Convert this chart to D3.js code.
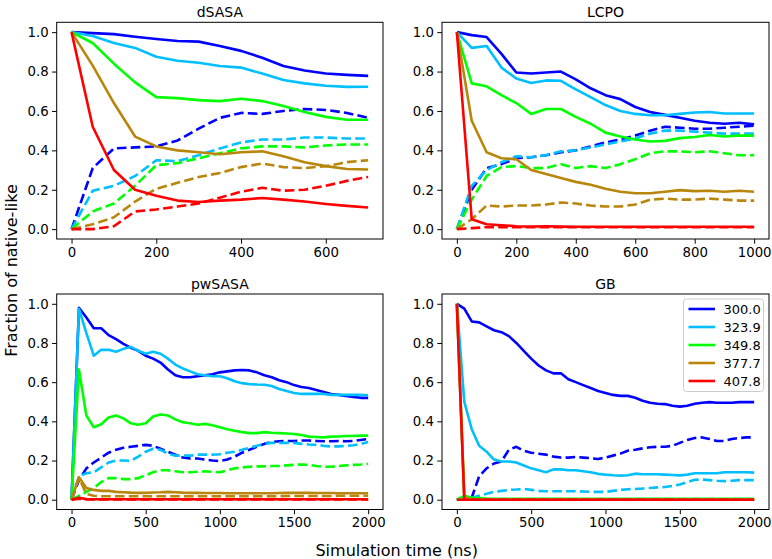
<!DOCTYPE html>
<html><head><meta charset="utf-8">
<script src="https://cdn.jsdelivr.net/npm/d3@7"></script>
<style>
body{margin:0;background:#fff}
svg{display:block}
text{font-family:"DejaVu Sans",sans-serif;fill:#000}
</style>
</head><body>
<svg id="chart" width="772" height="559"></svg>
<script>
// ---------------- data ----------------
const temperatures = ["300.0", "323.9", "349.8", "377.7", "407.8"];
const yTickValues = [0, 0.2, 0.4, 0.6, 0.8, 1.0];

const dSASA_time = [0,50,100,150,200,250,300,350,400,450,500,550,600,650,700];
const dSASA_xticks = [0,200,400,600];
const dSASA_solid = [
  [1.0,0.995,0.99,0.977,0.965,0.955,0.952,0.93,0.905,0.87,0.828,0.805,0.79,0.783,0.778],
  [1.0,0.98,0.945,0.92,0.875,0.855,0.845,0.828,0.82,0.79,0.757,0.74,0.728,0.722,0.723],
  [1.0,0.945,0.84,0.745,0.67,0.665,0.655,0.65,0.662,0.65,0.625,0.595,0.57,0.555,0.555],
  [1.0,0.83,0.64,0.47,0.42,0.40,0.39,0.38,0.39,0.395,0.37,0.34,0.32,0.305,0.303],
  [1.0,0.52,0.30,0.20,0.17,0.145,0.138,0.145,0.15,0.158,0.15,0.14,0.128,0.118,0.11]
];
const dSASA_dashed = [
  [0,0.31,0.41,0.415,0.42,0.45,0.51,0.565,0.59,0.585,0.60,0.61,0.605,0.59,0.565],
  [0,0.195,0.22,0.27,0.35,0.345,0.375,0.41,0.44,0.455,0.455,0.465,0.465,0.46,0.46],
  [0,0.09,0.13,0.22,0.325,0.335,0.36,0.385,0.41,0.42,0.42,0.415,0.425,0.43,0.43],
  [0,0.025,0.06,0.14,0.205,0.235,0.265,0.285,0.315,0.333,0.315,0.31,0.32,0.34,0.35],
  [0,0,0.015,0.09,0.10,0.115,0.13,0.16,0.19,0.21,0.195,0.20,0.22,0.245,0.265]
];

const LCPO_time = [0,50,100,150,200,250,300,350,400,450,500,550,600,650,700,750,800,850,900,950,1000];
const LCPO_xticks = [0,200,400,600,800,1000];
const LCPO_solid = [
  [1.0,0.985,0.975,0.89,0.795,0.79,0.795,0.80,0.76,0.715,0.68,0.66,0.62,0.595,0.58,0.565,0.55,0.54,0.535,0.54,0.532],
  [1.0,0.92,0.93,0.82,0.765,0.742,0.755,0.753,0.71,0.67,0.63,0.60,0.585,0.578,0.578,0.585,0.592,0.595,0.587,0.587,0.587],
  [1.0,0.74,0.725,0.68,0.64,0.585,0.61,0.61,0.57,0.535,0.49,0.47,0.455,0.445,0.448,0.462,0.468,0.478,0.47,0.475,0.475],
  [1.0,0.55,0.39,0.36,0.355,0.30,0.28,0.26,0.24,0.225,0.205,0.19,0.182,0.182,0.19,0.198,0.193,0.195,0.19,0.195,0.19],
  [1.0,0.05,0.025,0.02,0.015,0.013,0.015,0.013,0.012,0.012,0.012,0.012,0.012,0.012,0.012,0.012,0.012,0.012,0.012,0.012,0.012]
];
const LCPO_dashed = [
  [0,0.2,0.31,0.33,0.36,0.365,0.375,0.39,0.40,0.42,0.44,0.455,0.475,0.50,0.52,0.515,0.51,0.51,0.515,0.52,0.525],
  [0,0.22,0.30,0.34,0.37,0.365,0.375,0.395,0.40,0.415,0.43,0.445,0.46,0.485,0.50,0.50,0.495,0.49,0.485,0.485,0.485],
  [0,0.15,0.27,0.315,0.32,0.31,0.31,0.33,0.31,0.32,0.31,0.33,0.355,0.385,0.395,0.395,0.39,0.395,0.385,0.375,0.375],
  [0,0.05,0.12,0.115,0.12,0.12,0.125,0.135,0.13,0.12,0.115,0.115,0.125,0.15,0.155,0.15,0.15,0.155,0.15,0.145,0.145],
  [0,0.005,0.01,0.01,0.01,0.01,0.01,0.01,0.01,0.01,0.01,0.01,0.01,0.01,0.01,0.01,0.01,0.01,0.01,0.01,0.01]
];

const long_time = [0,50,100,150,200,250,300,350,400,450,500,550,600,650,700,750,800,850,900,950,
  1000,1050,1100,1150,1200,1250,1300,1350,1400,1450,1500,1550,1600,1650,1700,1750,1800,1850,1900,1950,2000];
const long_xticks = [0,500,1000,1500,2000];

const pwSASA_solid = [
  [0,0.98,0.93,0.875,0.875,0.84,0.82,0.795,0.775,0.76, 0.735,0.72,0.70,0.665,0.635,0.625,0.625,0.63,0.635,0.64,
   0.65,0.655,0.66,0.662,0.66,0.65,0.635,0.625,0.61,0.60, 0.585,0.575,0.57,0.56,0.55,0.54,0.535,0.53,0.525,0.52, 0.52],
  [0,0.975,0.85,0.735,0.765,0.765,0.755,0.77,0.78,0.76, 0.745,0.755,0.745,0.72,0.69,0.67,0.655,0.64,0.635,0.63,
   0.63,0.62,0.605,0.595,0.59,0.588,0.587,0.58,0.565,0.555, 0.545,0.54,0.54,0.54,0.54,0.535,0.535,0.535,0.535,0.535, 0.533],
  [0,0.665,0.43,0.37,0.385,0.42,0.43,0.415,0.39,0.383, 0.39,0.425,0.435,0.43,0.41,0.395,0.39,0.383,0.387,0.38,
   0.37,0.36,0.352,0.345,0.34,0.34,0.345,0.342,0.34,0.338, 0.335,0.33,0.322,0.32,0.318,0.322,0.323,0.325,0.325,0.327, 0.327],
  [0,0.115,0.06,0.05,0.045,0.045,0.04,0.038,0.036,0.035, 0.035,0.037,0.038,0.04,0.038,0.036,0.035,0.035,0.034,0.034,
   0.034,0.033,0.033,0.033,0.033,0.033,0.033,0.033,0.034,0.035, 0.035,0.035,0.035,0.034,0.034,0.034,0.033,0.033,0.033,0.033, 0.033],
  [0,0.01,0.003,0.002,0.002,0.002,0.002,0.002,0.002,0.002, 0.002,0.002,0.002,0.002,0.002,0.002,0.002,0.002,0.002,0.002,
   0.002,0.002,0.002,0.002,0.002,0.002,0.002,0.002,0.002,0.002, 0.002,0.002,0.002,0.002,0.002,0.002,0.002,0.002,0.002,0.002, 0.002]
];
const pwSASA_dashed = [
  [0,0.10,0.16,0.19,0.215,0.24,0.255,0.265,0.27,0.275, 0.28,0.275,0.26,0.245,0.23,0.215,0.21,0.21,0.205,0.20,
   0.197,0.205,0.22,0.24,0.255,0.27,0.285,0.295,0.298,0.30, 0.30,0.302,0.302,0.30,0.298,0.298,0.30,0.298,0.30,0.305, 0.31],
  [0,0.12,0.135,0.14,0.165,0.19,0.20,0.20,0.198,0.22, 0.245,0.26,0.255,0.235,0.225,0.225,0.225,0.23,0.23,0.23,
   0.232,0.24,0.245,0.255,0.265,0.275,0.285,0.29,0.29,0.29, 0.29,0.285,0.282,0.28,0.275,0.272,0.272,0.275,0.278,0.285, 0.295],
  [0,0.02,0.04,0.06,0.09,0.11,0.11,0.105,0.105,0.11, 0.125,0.14,0.15,0.15,0.145,0.14,0.14,0.143,0.145,0.142,
   0.14,0.15,0.16,0.165,0.168,0.17,0.17,0.172,0.172,0.175, 0.178,0.18,0.178,0.172,0.168,0.168,0.172,0.175,0.178,0.18, 0.183],
  [0,0.11,0.03,0.02,0.018,0.018,0.018,0.018,0.018,0.018, 0.018,0.018,0.018,0.018,0.018,0.018,0.018,0.018,0.018,0.018,
   0.018,0.018,0.018,0.018,0.018,0.018,0.018,0.018,0.018,0.019, 0.019,0.019,0.019,0.019,0.019,0.019,0.02,0.02,0.02,0.02, 0.02],
  [0,0.005,0.002,0.001,0.001,0.001,0.001,0.001,0.001,0.001, 0.001,0.001,0.001,0.001,0.001,0.001,0.001,0.001,0.001,0.001,
   0.001,0.001,0.001,0.001,0.001,0.001,0.001,0.001,0.001,0.001, 0.001,0.001,0.001,0.001,0.001,0.001,0.001,0.001,0.001,0.001, 0.001]
];

const GB_solid = [
  [1.0,0.975,0.91,0.905,0.885,0.865,0.855,0.835,0.80,0.76, 0.72,0.685,0.66,0.645,0.645,0.615,0.60,0.585,0.57,0.555,
   0.545,0.535,0.53,0.53,0.52,0.505,0.495,0.49,0.488,0.48, 0.475,0.48,0.49,0.495,0.498,0.495,0.495,0.495,0.498,0.498, 0.498],
  [1.0,0.5,0.36,0.275,0.245,0.205,0.195,0.195,0.19,0.175, 0.16,0.15,0.14,0.155,0.155,0.15,0.15,0.145,0.14,0.132,
   0.128,0.125,0.123,0.125,0.133,0.13,0.13,0.13,0.128,0.126, 0.124,0.128,0.135,0.135,0.135,0.135,0.14,0.14,0.14,0.14, 0.138],
  [1.0,0.02,0.01,0.008,0.006,0.005,0.005,0.005,0.005,0.005, 0.005,0.005,0.005,0.005,0.005,0.005,0.005,0.005,0.005,0.005,
   0.005,0.005,0.005,0.005,0.005,0.005,0.005,0.005,0.005,0.005, 0.005,0.005,0.005,0.005,0.005,0.005,0.005,0.005,0.005,0.005, 0.005],
  [1.0,0.01,0.003,0,0,0,0,0,0,0, 0,0,0,0,0,0,0,0,0,0, 0,0,0,0,0,0,0,0,0,0, 0,0,0,0,0,0,0,0,0,0, 0],
  [1.0,0,0,0,0,0,0,0,0,0, 0,0,0,0,0,0,0,0,0,0, 0,0,0,0,0,0,0,0,0,0, 0,0,0,0,0,0,0,0,0,0, 0]
];
const GB_dashed = [
  [0,0.005,0.01,0.12,0.16,0.185,0.195,0.255,0.27,0.25, 0.24,0.235,0.23,0.22,0.215,0.215,0.218,0.215,0.212,0.208,
   0.215,0.225,0.235,0.25,0.255,0.262,0.268,0.27,0.27,0.275, 0.29,0.305,0.315,0.318,0.31,0.30,0.30,0.31,0.315,0.318, 0.318],
  [0,0.005,0.01,0.02,0.03,0.04,0.045,0.05,0.052,0.055, 0.05,0.045,0.043,0.043,0.043,0.043,0.043,0.042,0.04,0.04,
   0.04,0.045,0.05,0.053,0.055,0.057,0.06,0.063,0.065,0.07, 0.078,0.09,0.102,0.103,0.10,0.097,0.095,0.097,0.10,0.10, 0.10],
  [0,0.02,0.005,0,0,0,0,0,0,0, 0,0,0,0,0,0,0,0,0,0, 0,0,0,0,0,0,0,0,0,0, 0,0,0,0,0,0,0,0,0,0, 0],
  [0,0,0,0,0,0,0,0,0,0, 0,0,0,0,0,0,0,0,0,0, 0,0,0,0,0,0,0,0,0,0, 0,0,0,0,0,0,0,0,0,0, 0],
  [0,0,0,0,0,0,0,0,0,0, 0,0,0,0,0,0,0,0,0,0, 0,0,0,0,0,0,0,0,0,0, 0,0,0,0,0,0,0,0,0,0, 0]
];

// ---------------- styles / layout ----------------
const lineColors = ["#0000ff", "#00bfff", "#00ff00", "#b8860b", "#ff0000"];
const panels = [
  {title: "dSASA",  time: dSASA_time, solid: dSASA_solid,  dashed: dSASA_dashed,  xticks: dSASA_xticks, box: [56.7, 22.3, 383, 239], legend: false},
  {title: "LCPO",   time: LCPO_time,  solid: LCPO_solid,   dashed: LCPO_dashed,   xticks: LCPO_xticks,  box: [442, 22.3, 769, 239], legend: false},
  {title: "pwSASA", time: long_time,  solid: pwSASA_solid, dashed: pwSASA_dashed, xticks: long_xticks,  box: [56.7, 294, 383, 509.5], legend: false},
  {title: "GB",     time: long_time,  solid: GB_solid,     dashed: GB_dashed,     xticks: long_xticks,  box: [442, 294, 769, 509.5], legend: true}
];

const svg = d3.select("#chart");
const LW = 2.6;

panels.forEach(p => {
  const [x0, y0, x1, y1] = p.box;
  const ext = d3.extent(p.time);
  const pad = (ext[1] - ext[0]) * 0.05;
  const x = d3.scaleLinear().domain([ext[0] - pad, ext[1] + pad]).range([x0, x1]);
  const y = d3.scaleLinear().domain([-0.05, 1.05]).range([y1, y0]);
  const g = svg.append("g");

  const line = d3.line().x((d, i) => x(p.time[i])).y(d => y(d));

  p.solid.forEach((vals, k) => {
    g.append("path").attr("d", line(vals)).attr("fill", "none")
      .attr("stroke", lineColors[k]).attr("stroke-width", LW)
      .attr("stroke-linejoin", "round").attr("stroke-linecap", "butt");
    g.append("path").attr("d", line(p.dashed[k])).attr("fill", "none")
      .attr("stroke", lineColors[k]).attr("stroke-width", LW)
      .attr("stroke-dasharray", "9.6,4.2")
      .attr("stroke-linejoin", "round").attr("stroke-linecap", "butt");
  });

  // axes
  const xAxis = d3.axisBottom(x).tickValues(p.xticks).tickSize(4.7).tickPadding(3.4).tickFormat(d3.format("d"));
  const yAxis = d3.axisLeft(y).tickValues(yTickValues).tickSize(4.7).tickPadding(3.4).tickFormat(d3.format(".1f"));
  const gx = g.append("g").attr("transform", `translate(0,${y1})`).call(xAxis);
  const gy = g.append("g").attr("transform", `translate(${x0},0)`).call(yAxis);
  [gx, gy].forEach(a => {
    a.select(".domain").remove();
    a.selectAll(".tick line").attr("stroke", "#000").attr("stroke-width", 1);
    a.selectAll(".tick text").style("font-size", "13.3px").style("font-family", '"DejaVu Sans", sans-serif').attr("fill", "#000");
  });

  // frame
  g.append("rect").attr("x", x0).attr("y", y0).attr("width", x1 - x0).attr("height", y1 - y0)
    .attr("fill", "none").attr("stroke", "#000").attr("stroke-width", 1);

  // title
  g.append("text").attr("x", (x0 + x1) / 2).attr("y", y0 - 5.2).attr("text-anchor", "middle")
    .style("font-size", "14px").text(p.title);

  if (p.legend) {
    const lx = 683.5, ly = 299, lw = 80, lh = 92.5;
    const lg = g.append("g");
    lg.append("rect").attr("x", lx).attr("y", ly).attr("width", lw).attr("height", lh)
      .attr("rx", 3).attr("fill", "#fff").attr("fill-opacity", 0.8)
      .attr("stroke", "#cccccc").attr("stroke-width", 1);
    temperatures.forEach((t, k) => {
      const cy = ly + 10 + k * 18;
      lg.append("line").attr("x1", lx + 5).attr("x2", lx + 31.5).attr("y1", cy).attr("y2", cy)
        .attr("stroke", lineColors[k]).attr("stroke-width", LW);
      lg.append("text").attr("x", lx + 40).attr("y", cy + 4.5).style("font-size", "13px").text(t);
    });
  }
});

// shared axis labels
svg.append("text").attr("x", 396.7).attr("y", 556).attr("text-anchor", "middle")
  .style("font-size", "16px").text("Simulation time (ns)");
svg.append("text").attr("transform", "translate(16.5,270.5) rotate(-90)").attr("text-anchor", "middle")
  .style("font-size", "16px").text("Fraction of native-like");
</script>
</body></html>
